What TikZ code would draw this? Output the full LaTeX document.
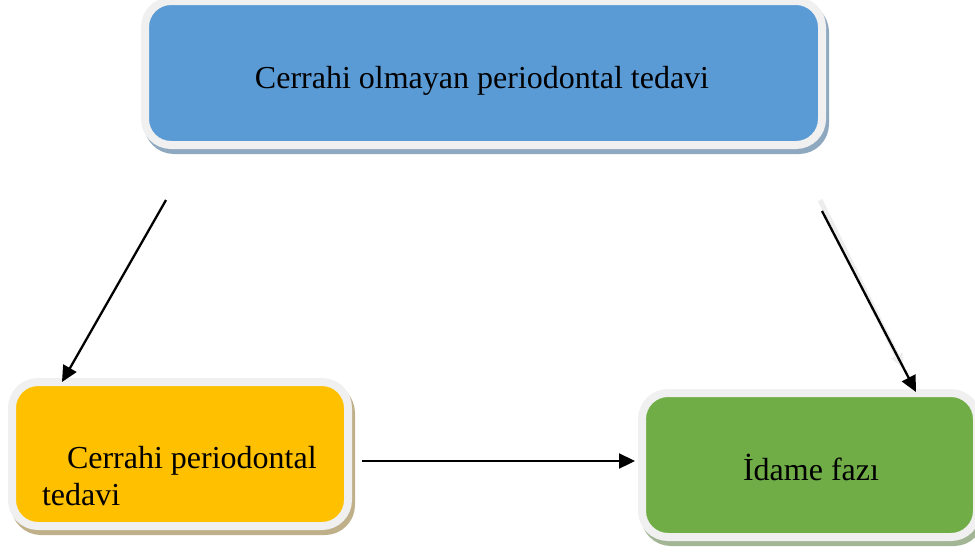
\documentclass[tikz,border=0pt]{standalone}
\usepackage{fontspec}
\setmainfont{Liberation Serif}
\usetikzlibrary{arrows.meta,shadows}
\definecolor{topblue}{HTML}{5B9BD5}
\definecolor{topshadow}{HTML}{8EA8C0}
\definecolor{orangefill}{HTML}{FFC000}
\definecolor{orangeshadow}{HTML}{BFB08A}
\definecolor{greenfill}{HTML}{70AD47}
\definecolor{greenshadow}{HTML}{A2B595}
\definecolor{rimgray}{HTML}{F0F0F0}
\definecolor{ghostgray}{HTML}{EDEDED}
\begin{document}
\begin{tikzpicture}[x=1pt,y=-1pt,
  box/.style={rectangle, rounded corners=26pt, draw=rimgray, line width=8pt,
    inner sep=0pt, outer sep=0pt, minimum height=144pt},
  boxshadow/.style={drop shadow={shadow xshift=3pt, shadow yshift=-5pt,
    fill=#1, draw=#1, line width=8pt, opacity=1}},
  lbl/.style={inner sep=0pt, outer sep=0pt, font=\fontsize{32}{36}\selectfont, anchor=base},
  arr/.style={line width=2.3pt, -{Triangle[length=16pt,width=15pt]}},
  ghost/.style={line width=5pt, draw=ghostgray, -{Triangle[length=14pt,width=12pt]}}
]
\useasboundingbox (0,0) rectangle (975,552);

% boxes
\node[box, boxshadow=topshadow, fill=topblue, minimum width=677pt] (top) at (483.5,73) {};
\node[box, boxshadow=orangeshadow, fill=orangefill, minimum width=336pt] (cpt) at (180,454) {};
\node[box, boxshadow=greenshadow, fill=greenfill, minimum width=335pt] (ida) at (809.5,465) {};

% texts
\node[lbl] (toptext) at (482,88) {Cerrahi olmayan periodontal tedavi};
\node[lbl, anchor=base west] (cpttexta) at (67,468) {Cerrahi periodontal};
\node[lbl, anchor=base west] (cpttextb) at (42,505) {tedavi};
\node[lbl] (idatext) at (811,480) {İdame fazı};

% connector end points
\coordinate (a1s) at (166,200);
\coordinate (a1e) at (62,382);
\coordinate (g2s) at (820,200);
\coordinate (g2e) at (903,368);
\coordinate (a2s) at (822,211);
\coordinate (a2e) at (916,392);
\coordinate (a3s) at (362,461);
\coordinate (a3e) at (635,461);

% connectors
\draw[ghost] (g2s) -- (g2e);
\draw[arr] (a1s) -- (a1e);
\draw[arr] (a2s) -- (a2e);
\draw[arr] (a3s) -- (a3e);
\end{tikzpicture}
\end{document}
